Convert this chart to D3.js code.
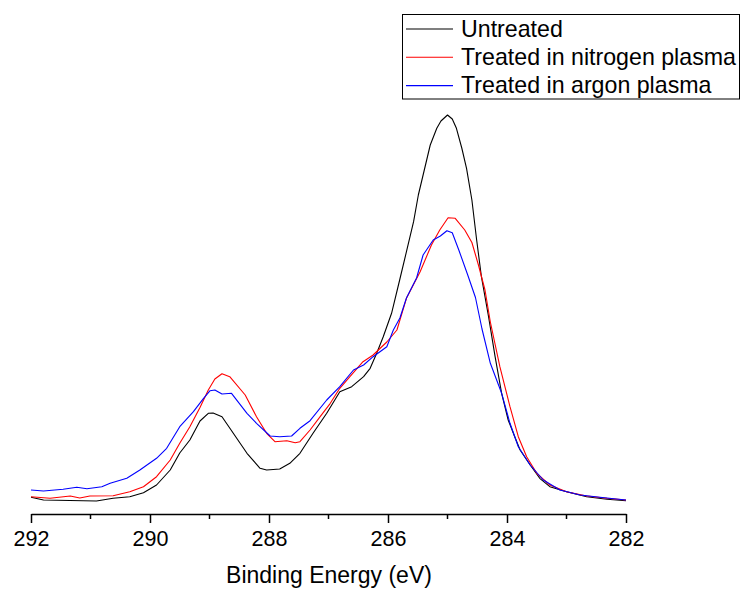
<!DOCTYPE html>
<html>
<head>
<meta charset="utf-8">
<script src="https://cdn.jsdelivr.net/npm/d3@7"></script>
<style>
  html, body { margin: 0; padding: 0; background: #fff; }
  svg { display: block; font-family: "Liberation Sans", Arial, sans-serif; }
</style>
</head>
<body>
<svg id="chart" width="742" height="590"></svg>
<script>
// C 1s spectra: [binding energy (eV), intensity (a.u.)]
const untreated = [
  [292.0, 12.7], [291.79, 10], [290.9, 9], [290.62, 11.7], [290.34, 13.3],
  [290.11, 17.3], [289.89, 25], [289.66, 40], [289.5, 57], [289.33, 70],
  [289.16, 89], [289.02, 96.7], [288.94, 97], [288.79, 93.3], [288.6, 76.7],
  [288.37, 56.7], [288.15, 41.7], [288.04, 40], [287.82, 41], [287.65, 46.7],
  [287.48, 56.7], [287.26, 76.7], [287.03, 96.7], [286.81, 118.3], [286.61, 123.3],
  [286.41, 133.3], [286.3, 141.7], [286.19, 156.7], [286.08, 173.3], [285.94, 196.7],
  [285.8, 231], [285.69, 258.3], [285.57, 288.3], [285.49, 315], [285.41, 335],
  [285.29, 365], [285.18, 381.7], [285.11, 389], [285.0, 395], [284.92, 391],
  [284.85, 381.7], [284.76, 362], [284.68, 341.7], [284.59, 310], [284.51, 270],
  [284.43, 233.3], [284.31, 193.3], [284.2, 153.3], [284.09, 116.7], [283.98, 90],
  [283.87, 73.3], [283.78, 60], [283.61, 45], [283.45, 31.7], [283.28, 23.3],
  [283.0, 18.3], [282.66, 13.3], [282.32, 10.7], [282.0, 9.3]
];
const nitrogenPlasma = [
  [292.0, 13.3], [291.68, 11.7], [291.34, 14], [291.18, 12], [291.01, 14],
  [290.62, 14.3], [290.34, 18.3], [290.11, 23.3], [289.89, 33.3], [289.66, 50],
  [289.5, 66.7], [289.33, 83.3], [289.16, 102.5], [289.02, 120], [288.91, 131],
  [288.79, 136.3], [288.66, 133.3], [288.4, 115], [288.21, 93.3], [288.04, 76.7],
  [287.9, 68.3], [287.7, 69.3], [287.56, 67.3], [287.48, 68.3], [287.31, 80],
  [287.14, 93.3], [286.97, 106.7], [286.81, 121.7], [286.64, 133.3], [286.42, 148.3],
  [286.25, 155], [286.02, 168], [285.85, 180], [285.69, 211.7], [285.46, 238.3],
  [285.27, 265], [285.13, 280], [284.99, 292.3], [284.87, 291.7], [284.71, 280],
  [284.59, 267.5], [284.48, 245], [284.37, 220], [284.28, 188], [284.12, 143.3],
  [283.95, 103.3], [283.81, 73.3], [283.67, 53.3], [283.5, 36.7], [283.28, 25],
  [283.0, 18.3], [282.66, 14], [282.32, 11.7], [282.0, 10]
];
const argonPlasma = [
  [292.0, 20], [291.79, 19], [291.46, 20.7], [291.23, 22.7], [291.06, 21.3],
  [290.81, 23.3], [290.67, 26.7], [290.39, 31.7], [290.17, 40], [289.89, 51.7],
  [289.72, 61.7], [289.5, 83.3], [289.27, 98.3], [289.1, 111.7], [288.99, 119.3],
  [288.91, 120], [288.79, 116], [288.63, 116.7], [288.37, 96.7], [288.21, 86.7],
  [287.98, 74], [287.82, 73.3], [287.62, 74], [287.48, 81.7], [287.31, 89.3],
  [287.03, 110], [286.81, 123.3], [286.58, 140], [286.41, 145], [286.25, 153.3],
  [286.02, 163.3], [285.91, 180], [285.8, 192], [285.69, 212], [285.52, 232],
  [285.41, 255], [285.24, 270], [285.12, 274], [285.01, 279.3], [284.92, 277.3],
  [284.81, 260], [284.66, 235], [284.53, 212.5], [284.42, 181], [284.28, 146.7],
  [284.09, 116.7], [283.95, 86.7], [283.81, 63.3], [283.61, 45], [283.39, 30],
  [283.11, 20], [282.77, 15], [282.44, 12.7], [282.0, 10]
];

const seriesNames = ["Untreated", "Treated in nitrogen plasma", "Treated in argon plasma"];
const seriesData = [untreated, nitrogenPlasma, argonPlasma];
const seriesColors = ["#000000", "#ff0000", "#0000ff"];

const majorTicks = [292, 290, 288, 286, 284, 282];
const minorTicks = [291, 289, 287, 285, 283];
const xTitle = "Binding Energy (eV)";

const svg = d3.select("#chart");

const x = d3.scaleLinear().domain([292, 282]).range([31, 626]);
const y = d3.scaleLinear().domain([0, 400]).range([510, 110]);
const axisY = 514;

// Spectra
const line = d3.line().x(d => x(d[0])).y(d => y(d[1]));
svg.append("g")
  .selectAll("path")
  .data(seriesData)
  .join("path")
  .attr("fill", "none")
  .attr("stroke", (d, i) => seriesColors[i])
  .attr("stroke-width", 1.1)
  .attr("stroke-linejoin", "round")
  .attr("d", line);

// Bottom axis: major ticks with labels, minor ticks without
const xAxis = svg.append("g").attr("transform", `translate(0,${axisY})`);
xAxis.call(
  d3.axisBottom(x).tickValues(majorTicks).tickSize(9).tickSizeOuter(0)
    .tickFormat(d3.format("d"))
);
xAxis.select(".domain").attr("stroke", "#000").attr("stroke-width", 1.5);
xAxis.selectAll(".tick line").attr("stroke", "#000").attr("stroke-width", 1.5);
xAxis.selectAll(".tick text")
  .attr("fill", "#000")
  .attr("font-size", 21.5)
  .attr("font-family", '"Liberation Sans", Arial, sans-serif')
  .attr("y", 32)
  .attr("dy", 0);

svg.append("g")
  .selectAll("line")
  .data(minorTicks)
  .join("line")
  .attr("x1", d => x(d)).attr("x2", d => x(d))
  .attr("y1", axisY).attr("y2", axisY + 5)
  .attr("stroke", "#000").attr("stroke-width", 1.5);

svg.append("text")
  .attr("x", 329)
  .attr("y", 583)
  .attr("text-anchor", "middle")
  .attr("font-size", 23)
  .attr("fill", "#000")
  .text(xTitle);

// Legend
const legend = svg.append("g");
legend.append("rect")
  .attr("x", 402.5).attr("y", 14.5)
  .attr("width", 337).attr("height", 84.5)
  .attr("fill", "#fff").attr("stroke", "#000").attr("stroke-width", 1);
const rows = legend.selectAll("g.row")
  .data(seriesNames)
  .join("g")
  .attr("class", "row")
  .attr("transform", (d, i) => `translate(0,${29 + i * 28.3})`);
rows.append("line")
  .attr("x1", 406).attr("x2", 453)
  .attr("y1", 0).attr("y2", 0)
  .attr("stroke", (d, i) => seriesColors[i])
  .attr("stroke-width", 1.1);
rows.append("text")
  .attr("x", 461)
  .attr("y", 7.5)
  .attr("font-size", 23.2)
  .attr("fill", "#000")
  .text(d => d);
</script>
</body>
</html>
